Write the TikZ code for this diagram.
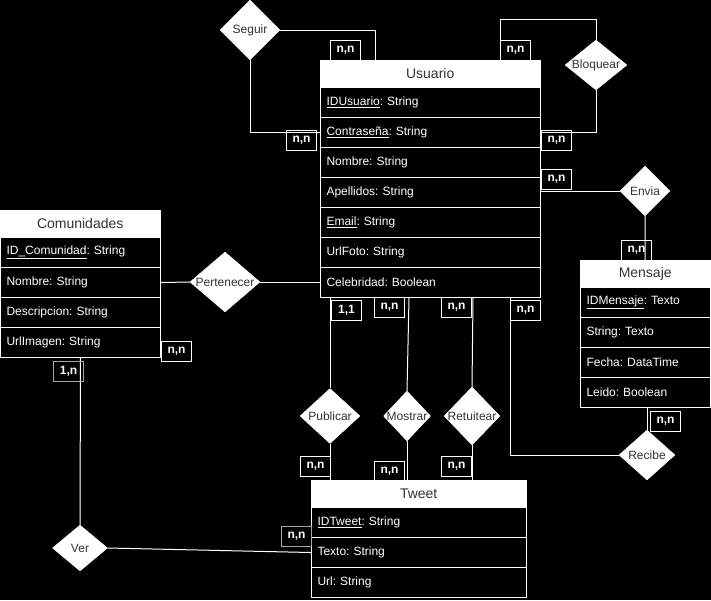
\documentclass[tikz,border=0pt]{standalone}
\usepackage{fontspec}
\setmainfont{Liberation Sans}
\usetikzlibrary{shapes.geometric}
\definecolor{hdrtext}{HTML}{333333}
\frenchspacing
\begin{document}
\begin{tikzpicture}[x=1pt,y=-1pt,
  every node/.style={font=\fontsize{12}{14}\selectfont},
  conn/.style={draw=white,line width=1pt},
  hdr/.style={draw=white,fill=white,text=hdrtext,anchor=north west,minimum height=27pt,inner sep=0pt,font=\fontsize{14}{16}\selectfont},
  attr/.style={draw=white,line width=1pt,fill=black,text=white,anchor=north west,minimum height=30pt,inner xsep=6pt,inner ysep=0pt,align=left},
  dia/.style={diamond,draw=white,fill=white,inner sep=0pt},
  dtext/.style={text=hdrtext,font=\fontsize{12}{14}\selectfont},
  card/.style={draw=white,line width=1pt,text=white,anchor=north west,minimum width=30pt,minimum height=20pt,inner sep=0pt,font=\bfseries\fontsize{12}{14}\selectfont}]

\fill[black] (0,0) rectangle (711,600);
\useasboundingbox (0,0) rectangle (711,600);

% ---------- tables ----------
% Usuario
\node[hdr,minimum width=220pt] (usr) at (320,60) {Usuario};
\node[attr,text width=208pt] (usr1) at (320,87)  {\underline{IDUsuario}: String};
\node[attr,text width=208pt] (usr2) at (320,117) {\underline{Contraseña}: String};
\node[attr,text width=208pt] (usr3) at (320,147) {Nombre: String};
\node[attr,text width=208pt] (usr4) at (320,177) {Apellidos: String};
\node[attr,text width=208pt] (usr5) at (320,207) {\underline{Email}: String};
\node[attr,text width=208pt] (usr6) at (320,237) {UrlFoto: String};
\node[attr,text width=208pt] (usr7) at (320,267) {Celebridad: Boolean};

% Comunidades
\node[hdr,minimum width=160pt] (com) at (0,210) {Comunidades};
\node[attr,text width=148pt] (com1) at (0,237) {\underline{ID\_Comunidad}: String};
\node[attr,text width=148pt] (com2) at (0,267) {Nombre: String};
\node[attr,text width=148pt] (com3) at (0,297) {Descripcion: String};
\node[attr,text width=148pt] (com4) at (0,327) {UrlImagen: String};

% Mensaje
\node[hdr,minimum width=130pt] (msg) at (580,260) {Mensaje};
\node[attr,text width=118pt] (msg1) at (580,287) {\underline{IDMensaje}: Texto};
\node[attr,text width=118pt] (msg2) at (580,317) {String: Texto};
\node[attr,text width=118pt] (msg3) at (580,347) {Fecha: DataTime};
\node[attr,text width=118pt] (msg4) at (580,377) {Leido: Boolean};

% Tweet
\node[hdr,minimum width=215pt] (tw) at (311,480) {Tweet};
\node[attr,text width=203pt] (tw1) at (311,507) {\underline{IDTweet}: String};
\node[attr,text width=203pt] (tw2) at (311,537) {Texto: String};
\node[attr,text width=203pt] (tw3) at (311,567) {Url: String};

% ---------- relationships ----------
\node[dia,minimum width=60pt,minimum height=60pt,label={[dtext]center:Seguir}] (seg) at (250,30) {};
\node[dia,minimum width=62pt,minimum height=50pt,label={[dtext]center:Bloquear}] (blq) at (596,65) {};
\node[dia,minimum width=50pt,minimum height=50pt,label={[dtext]center:Envia}] (env) at (645,191) {};
\node[dia,minimum width=70pt,minimum height=60pt,label={[dtext]center:Pertenecer}] (per) at (225,282) {};
\node[dia,minimum width=55pt,minimum height=46pt,label={[dtext]center:Ver}] (ver) at (80,548) {};
\node[dia,minimum width=60pt,minimum height=55pt,label={[dtext]center:Publicar}] (pub) at (330,416) {};
\node[dia,minimum width=47pt,minimum height=50pt,label={[dtext]center:Mostrar}] (mos) at (407,416) {};
\node[dia,minimum width=56pt,minimum height=58pt,label={[dtext]center:Retuitear}] (ret) at (472,416) {};
\node[dia,minimum width=56pt,minimum height=50pt,label={[dtext]center:Recibe}] (rec) at (647,455) {};

% ---------- connectors ----------
\draw[conn] (seg.east) -| ([xshift=55pt]usr.north west);
\draw[conn] (seg.south) |- (usr2.west);
\draw[conn] (blq.north) -- ++(0,-20) -| ([xshift=180pt]usr.north west);
\draw[conn] (blq.south) |- (usr2.east);
\draw[conn] (env.west) -- (env.west -| usr4.east);
\draw[conn] (env.south) -- (msg.north);
\draw[conn] (com2.east) -- (per.west);
\draw[conn] (per.east) -- (per.east -| usr7.west);
\draw[conn] (com4.south) -- (ver.north);
\draw[conn] (ver.east) -- (tw2.west);
\draw[conn] (pub.north |- usr7.south) -- (pub.north);
\draw[conn] (pub.south) -- (pub.south |- tw.north);
\draw[conn] ([xshift=89pt]usr7.south west) -- (mos.north);
\draw[conn] (mos.south) -- (mos.south |- tw.north);
\draw[conn] ([xshift=153pt]usr7.south west) -- (ret.north);
\draw[conn] (ret.south) -- (ret.south |- tw.north);
\draw[conn] (rec.north |- msg4.south) -- (rec.north);
\draw[conn] (rec.west) -| ([xshift=190pt]usr7.south west);

% ---------- cardinalities ----------
\node[card] (c1)  at (330,40)  {n,n};
\node[card] (c2)  at (286,130) {n,n};
\node[card] (c3)  at (500,40)  {n,n};
\node[card] (c4)  at (541,130) {n,n};
\node[card] (c5)  at (541,169) {n,n};
\node[card] (c6)  at (621,240) {n,n};
\node[card] (c7)  at (161,341) {n,n};
\node[card,draw=gray!70] (c8)  at (53,361)  {1,n};
\node[card,draw=gray!70] (c9)  at (281,526) {n,n};
\node[card] (c10) at (331,300) {1,1};
\node[card] (c11) at (300,456) {n,n};
\node[card] (c12) at (374,297) {n,n};
\node[card] (c13) at (374,461) {n,n};
\node[card] (c14) at (441,297) {n,n};
\node[card] (c15) at (441,456) {n,n};
\node[card] (c16) at (510,300) {n,n};
\node[card] (c17) at (650,411) {n,n};
\end{tikzpicture}
\end{document}
